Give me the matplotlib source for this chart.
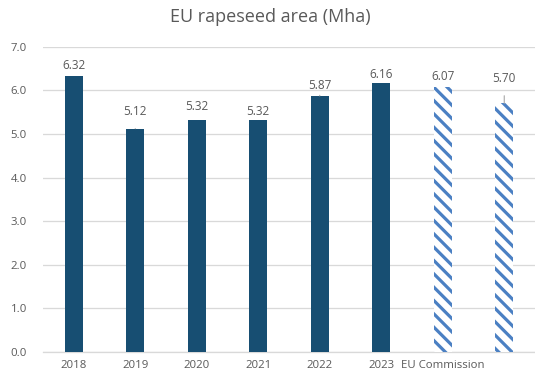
import matplotlib
matplotlib.use("Agg")
import matplotlib.pyplot as plt

categories = ["2018", "2019", "2020", "2021", "2022", "2023", "EU Commission", ""]
values = [6.32, 5.12, 5.32, 5.32, 5.87, 6.16, 6.07, 5.70]
forecast = [False, False, False, False, False, False, True, True]
value_labels = ["6.32", "5.12", "5.32", "5.32", "5.87", "6.16", "6.07", "5.70"]
# label offset above bar top (px) and whether a leader line is drawn
label_offsets = [10.5, 17.0, 13.5, 8.5, 10.5, 8.5, 10.5, 24.5]
leaders = [False, True, False, False, True, False, False, True]

DPI = 120
PX = 72 / DPI  # points per pixel

plt.rcParams["font.family"] = ["Open Sans", "DejaVu Sans"]
plt.rcParams["hatch.linewidth"] = 3.2 * PX

solid = "#174e72"
hatch_col = "#4b80c3"
text_col = "#595959"
grid_col = "#d9d9d9"

fig = plt.figure(figsize=(535 / DPI, 378 / DPI), dpi=DPI)
ax = fig.add_axes([43 / 535, 26 / 378, 492 / 535, (352 - 46.7) / 378])

x = list(range(len(categories)))
for i, (v, f) in enumerate(zip(values, forecast)):
    if f:
        ax.bar(i, v, width=0.3, color="white", edgecolor=hatch_col,
               hatch="\\\\\\", linewidth=0, zorder=3)
    else:
        ax.bar(i, v, width=0.3, color=solid, linewidth=0, zorder=3)

for i, (v, lab, off, ld) in enumerate(zip(values, value_labels, label_offsets, leaders)):
    ax.annotate(lab, xy=(i, v), xytext=(0, off * PX), textcoords="offset points",
                ha="center", va="center", fontsize=11.8 * PX, color=text_col,
                arrowprops=dict(arrowstyle="-", color="#a6a6a6", lw=1.1 * PX,
                                shrinkA=7 * PX, shrinkB=0) if ld else None,
                zorder=4)

ax.set_xlim(-0.5, len(categories) - 0.5)
ax.set_ylim(0, 7)
ax.set_yticks([i * 1.0 for i in range(8)])
ax.set_yticklabels([f"{i:.1f}" for i in range(8)])
ax.set_xticks(x)
ax.set_xticklabels(categories)
ax.tick_params(axis="both", length=0, labelsize=11.4 * PX, labelcolor=text_col)
ax.tick_params(axis="y", pad=16 * PX)
ax.tick_params(axis="x", pad=8 * PX)
ax.grid(axis="y", color=grid_col, linewidth=1.3 * PX, zorder=0)
ax.set_axisbelow(True)
for s in ["top", "right", "left"]:
    ax.spines[s].set_visible(False)
ax.spines["bottom"].set_color(grid_col)
ax.spines["bottom"].set_linewidth(1.3 * PX)

fig.text(270 / 535, 1 - 17 / 378, "EU rapeseed area (Mha)", ha="center", va="center",
         fontsize=18 * PX, color=text_col)

fig.savefig("out.png", dpi=DPI)
